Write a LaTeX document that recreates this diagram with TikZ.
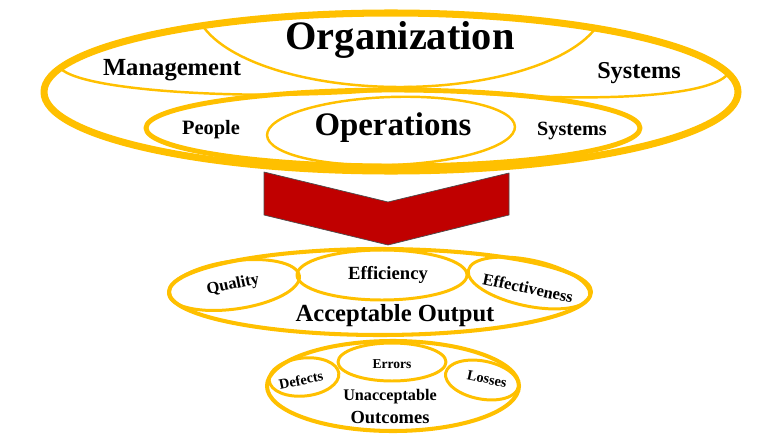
\documentclass[tikz,border=0pt]{standalone}
\usepackage{fontspec}
\setmainfont{Liberation Serif}
\usepackage{tikz}
\usetikzlibrary{calc}
\definecolor{ffcqqq}{rgb}{1.,0.7529,0.}
\definecolor{cqqqqq}{rgb}{0.7529,0.,0.}
\newcommand{\txtsize}[1]{\fontsize{#1}{#1}\selectfont\bfseries}
\tikzset{
  ring/.style={draw=ffcqqq,line width=#1},
  ring/.default=1.4pt,
  word/.style={inner sep=0pt,font=\txtsize{#1}}
}
\begin{document}
\begin{tikzpicture}[line cap=round,line join=round,x=0.02cm,y=-0.02cm]
            \useasboundingbox (0,0) rectangle (780,439);
            \draw [fill=cqqqqq,draw=black!70,line width=0.4pt] (264,172) -- (388,202) -- (509,173) -- (509,215) -- (388,245) -- (264,215) -- cycle;
            \begin{scope}
            \clip (391,92) ellipse [x radius=347, y radius=79];
            \draw [ring] (400,3) ellipse [x radius=205, y radius=84];
            \draw [ring] (60,68) .. controls (85,95) and (300,102) .. (412,87);
            \draw [ring] (408,87) .. controls (560,104) and (700,100) .. (726,76);
            \end{scope}
            \draw [ring=2.8pt] (393,128) ellipse [x radius=247, y radius=38];
            \draw [ring, rotate around={2:(391,131)}] (391,131) ellipse [x radius=124, y radius=34];
            \draw [ring=4pt] (391,92) ellipse [x radius=347, y radius=79];
            \node [word=23] (organization) at (400,40) {Organization};
            \node [word=14] (management) at (172,70) {Management};
            \node [word=13.8] (systemsup) at (639,73) {Systems};
            \node [word=11.6] (people) at (211,130) {People};
            \node [word=18.7] (operations) at (393,128) {Operations};
            \node [word=11.5] (systemslow) at (572,131) {Systems};
            \draw [ring=2.3pt] (380,292) ellipse [x radius=211, y radius=43];
            \draw [ring=1.7pt, rotate around={8:(234,285)}] (234,285) ellipse [x radius=66, y radius=24];
            \draw [ring=1.7pt] (382,275) ellipse [x radius=85, y radius=25];
            \draw [ring=1.7pt, rotate around={-12:(529,283)}] (529,283) ellipse [x radius=62, y radius=23];
            \node [word=9.4, rotate=12] (quality) at (233,285) {Quality};
            \node [word=10.6] (efficiency) at (388,275) {Efficiency};
            \node [word=9.4, rotate=-12] (effectiveness) at (528,288) {Effectiveness};
            \node [word=14] (acceptable) at (395,316) {Acceptable Output};
            \draw [ring=2.3pt] (393,386) ellipse [x radius=126, y radius=45];
            \draw [ring=1.7pt, rotate around={6:(304,377)}] (304,377) ellipse [x radius=35, y radius=19];
            \draw [ring=1.7pt] (392,362) ellipse [x radius=54, y radius=19];
            \draw [ring=1.7pt, rotate around={-11:(482,380)}] (482,380) ellipse [x radius=37, y radius=19];
            \node [word=7.7] (errors) at (392,364) {Errors};
            \node [word=8.2, rotate=12] (defects) at (301,380) {Defects};
            \node [word=8.2, rotate=-12] (losses) at (487,379) {Losses};
            \node [word=9.2] (unacceptable) at (390,397) {Unacceptable};
            \node [word=10.5] (outcomes) at (390,417) {Outcomes};
\end{tikzpicture}
\end{document}
